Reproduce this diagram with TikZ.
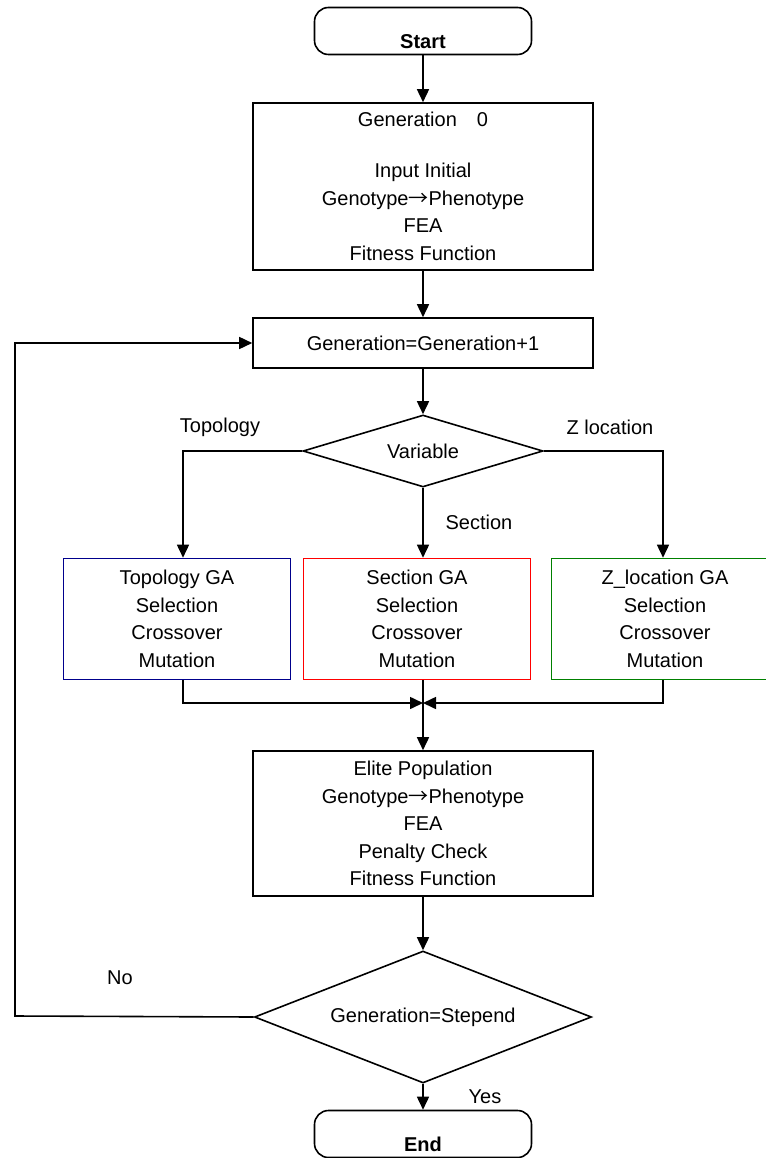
\documentclass[tikz,border=0pt]{standalone}
\usepackage{fontspec}
\setmainfont{Liberation Sans}
\newfontfamily\cjk{Noto Sans CJK JP}
\usetikzlibrary{arrows.meta, shapes.geometric, positioning}

\definecolor{topoblue}{RGB}{0,0,140}
\definecolor{zgreen}{RGB}{0,128,0}
\newcommand{\gp}{Genotype{\cjk →}Phenotype}

\begin{document}
\begin{tikzpicture}[x=1pt, y=-1pt, line width=1.6pt,
    >={Triangle[length=13pt,width=12pt]},
    every node/.style={font=\fontsize{20}{27.5}\selectfont},
    term/.style={draw, rounded corners=14pt, minimum width=217pt, minimum height=47pt,
      inner ysep=0pt, text height=40pt, text depth=5pt, font=\fontsize{20}{27.5}\selectfont\bfseries},
    box/.style={draw, align=center, minimum width=340pt, inner sep=0pt},
    gabox/.style={draw, align=center, minimum width=227pt, minimum height=121pt, inner sep=0pt},
    decision/.style={draw, diamond, inner sep=0pt}]

	\useasboundingbox (0,0) rectangle (765,1158);

	\node[term] (start) at (423,31) {Start};
	\node[box, minimum height=167pt] (gen0) at (423,186.5)
	{Generation\hspace{1em}0\\[23.5pt]Input Initial\\\gp\\FEA\\Fitness Function};
	\node[box, minimum height=50pt] (next) at (423,343) {Generation=Generation+1};
	\node[decision, aspect=3.33, minimum width=240pt, minimum height=72pt] (var) at (423,451) {Variable};

	\node[gabox, draw=topoblue] (topo) at (177,619) {Topology GA\\Selection\\Crossover\\Mutation};
	\node[gabox, draw=red] (sec) at (417,619) {Section GA\\Selection\\Crossover\\Mutation};
	\node[gabox, draw=zgreen] (zloc) at (665,619) {Z\_location GA\\Selection\\Crossover\\Mutation};

	\node[box, minimum height=145pt] (elite) at (423,823.5)
	{Elite Population\\\gp\\FEA\\Penalty Check\\Fitness Function};
	\node[decision, aspect=2.55, minimum width=337pt, minimum height=132pt] (stop) at (423,1017) {Generation=Stepend};
	\node[term] (end) at (423,1134) {End};

	\node (ltopo) at (220,427) {Topology};
	\node (lzloc) at (610,427) {Z location};
	\node (lsec) at (479,522) {Section};
	\node (lno) at (120,978) {No};
	\node (lyes) at (485,1097) {Yes};

	\coordinate (join) at (423,703);
	\coordinate (back) at (15,1016);

	\draw[->] (start) -- (gen0);
	\draw[->] (gen0) -- (next);
	\draw[->] (next) -- (var);
	\draw[->] (var.west) -| ([xshift=6pt]topo.north);
	\draw[->] (var.south) -- ([xshift=6pt]sec.north);
	\draw[->] (var.east) -| ([xshift=-2pt]zloc.north);
	\draw[->] ([xshift=6pt]topo.south) |- (join);
	\draw[->] ([xshift=-2pt]zloc.south) |- (join);
	\draw[->] ([xshift=6pt]sec.south) -- (elite);
	\draw[->] (elite) -- (stop);
	\draw[->] (stop) -- (end);
	\draw[->] (stop.west) -- (back) |- (next.west);

\end{tikzpicture}
\end{document}
